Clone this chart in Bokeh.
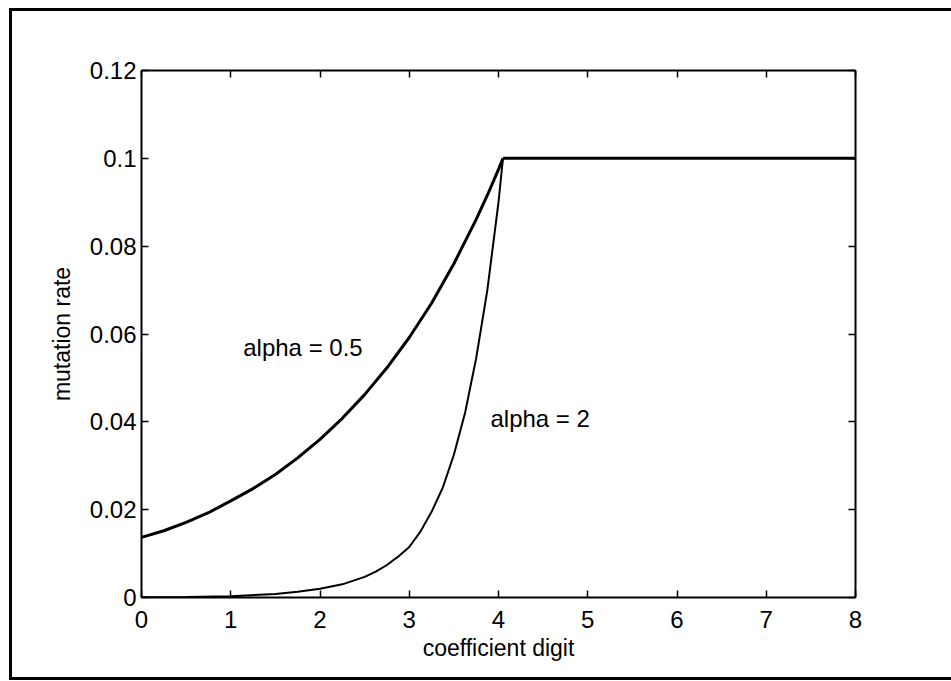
from bokeh.plotting import figure
from bokeh.models import Range1d, FixedTicker, LinearAxis, Label
from bokeh.embed import file_html
from bokeh.resources import INLINE

# ---- data ----
x_ticks = [0, 1, 2, 3, 4, 5, 6, 7, 8]
x_tick_labels = ["0", "1", "2", "3", "4", "5", "6", "7", "8"]
y_ticks = [0, 0.02, 0.04, 0.06, 0.08, 0.1, 0.12]
y_tick_labels = ["0", "0.02", "0.04", "0.06", "0.08", "0.1", "0.12"]

# alpha = 0.5 curve
x_a05 = [0, 0.25, 0.5, 0.75, 1.0, 1.25, 1.5, 1.75, 2.0, 2.25, 2.5, 2.75,
         3.0, 3.25, 3.5, 3.75, 3.875, 4.0, 4.05]
y_a05 = [0.0137, 0.0152, 0.0171, 0.0193, 0.0220, 0.0248, 0.0280, 0.0318,
         0.0360, 0.0408, 0.0462, 0.0523, 0.0592, 0.0670, 0.0760, 0.0861,
         0.0916, 0.0975, 0.100]

# alpha = 2 curve
x_a2 = [0, 0.5, 1.0, 1.5, 1.75, 2.0, 2.25, 2.5, 2.625, 2.75, 2.875, 3.0,
        3.125, 3.25, 3.375, 3.5, 3.625, 3.75, 3.875, 4.0, 4.05]
y_a2 = [0.00003, 0.0001, 0.0003, 0.0008, 0.0013, 0.0020, 0.0030, 0.0047,
        0.0059, 0.0074, 0.0093, 0.0115, 0.0150, 0.0195, 0.0250, 0.0325,
        0.0420, 0.0545, 0.0700, 0.0900, 0.100]

# saturated part (both)
x_flat = [4.05, 8]
y_flat = [0.100, 0.100]

labels_text = ["alpha = 0.5", "alpha = 2"]
labels_x = [1.14, 3.91]
labels_y = [0.0569, 0.0408]

FONT = "Liberation Sans"

# page-level frame (left, top, bottom) drawn by the figure's host element
p = figure(width=942, height=672, output_backend="svg", toolbar_location=None,
           x_range=Range1d(0, 8), y_range=Range1d(0, 0.12),
           min_border_left=129, min_border_right=99,
           min_border_top=59, min_border_bottom=86)
p.styles = {"margin-left": "9px", "margin-top": "8px",
            "border-left": "3px solid black", "border-top": "3px solid black",
            "border-bottom": "3px solid black"}
p.background_fill_color = "white"
p.border_fill_color = "white"
p.outline_line_color = None
p.xgrid.visible = False
p.ygrid.visible = False

xt = FixedTicker(ticks=x_ticks)
yt = FixedTicker(ticks=y_ticks)

def style_axis(ax, ticker, labels, show):
    ax.ticker = ticker
    ax.axis_line_width = 2
    ax.axis_line_color = "black"
    ax.major_tick_in = 7
    ax.major_tick_out = 0
    ax.major_tick_line_width = 1.5
    ax.minor_tick_line_color = None
    ax.major_label_text_font = FONT
    ax.major_label_text_font_size = "24px"
    ax.major_label_text_color = "black"
    if show:
        ax.major_label_overrides = {t: l for t, l in zip(ticker.ticks, labels)}
    else:
        ax.major_label_overrides = {t: "" for t in ticker.ticks}

style_axis(p.xaxis[0], xt, x_tick_labels, True)
style_axis(p.yaxis[0], yt, y_tick_labels, True)
p.xaxis[0].major_label_standoff = 13
p.yaxis[0].major_label_standoff = 5

p.xaxis[0].axis_label = "coefficient digit"
p.yaxis[0].axis_label = "mutation rate"
for ax in (p.xaxis[0], p.yaxis[0]):
    ax.axis_label_text_font = FONT
    ax.axis_label_text_font_size = "23px"
    ax.axis_label_text_font_style = "normal"
    ax.axis_label_text_color = "black"
p.xaxis[0].axis_label_standoff = 4
p.yaxis[0].axis_label_standoff = 12

top_ax = LinearAxis()
right_ax = LinearAxis()
style_axis(top_ax, xt, x_tick_labels, False)
style_axis(right_ax, yt, y_tick_labels, False)
p.add_layout(top_ax, "above")
p.add_layout(right_ax, "right")

p.line(x_a05, y_a05, line_color="black", line_width=3)
p.line(x_a2, y_a2, line_color="black", line_width=2)
p.line(x_flat, y_flat, line_color="black", line_width=3)

for t, lx, ly in zip(labels_text, labels_x, labels_y):
    p.add_layout(Label(x=lx, y=ly, text=t, text_font=FONT, text_font_size="24px",
                       text_color="black", text_baseline="alphabetic",
                       text_align="left"))

open("out.html", "w").write(file_html(p, INLINE))
